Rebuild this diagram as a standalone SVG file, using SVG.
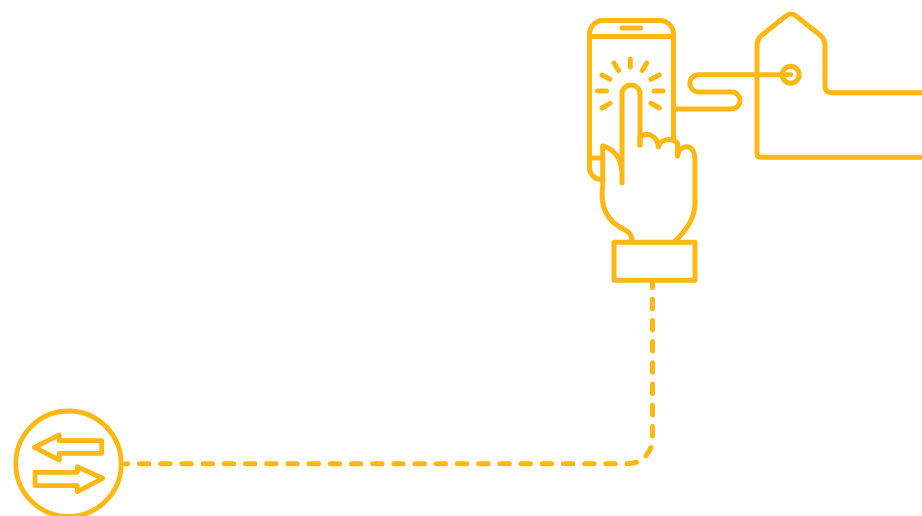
<svg xmlns="http://www.w3.org/2000/svg" width="922" height="516" viewBox="0 0 922 516">
<style>
.s{fill:none;stroke:#fdb813;stroke-width:5;stroke-linecap:round;stroke-linejoin:round}
.t{stroke-width:4.800}
.d{stroke-dasharray:9.500 11.700;stroke-dashoffset:5}
</style>
<rect width="922" height="516" fill="#fff"/>
<g id="connectors">
<path class="s d" d="M652.500 283V438A25 25 0 0 1 627.500 463.800H125.500"/>
<path class="s" d="M790.700 74.700H697.500A8.700 8.700 0 0 0 697.500 92H731.500A8.500 8.500 0 0 1 731.500 109H675"/>
</g>
<g id="tag">
<path class="s" d="M922 157.300H761Q757 157.300 757 153.300V46Q757 39 762 35L786 16Q791 12 796 16L820 35Q825 39 825 46V86Q825 92.700 832 92.700H922"/>
<circle class="s" cx="790.700" cy="74.700" r="8.500"/>
</g>
<g id="phone">
<path class="s" d="M603 179.500H601A11.500 11.500 0 0 1 589.500 168V34A13.500 13.500 0 0 1 603 20.500H660A13.500 13.500 0 0 1 673.500 34V138"/>
<path class="s" d="M589.500 36.500H673.500M622 28H640.500M589.500 158H603"/>
<path class="s" d="M630.300 59V67M614 63L618.500 70.500M646.700 63L642.300 70.500M602 75L610 79.300M659.300 75L651 79.300M597.500 91H606.500M654 91H663M602 108L610 103.300M659.300 108L651 103.300"/>
</g>
<g id="hand">
<path class="s" d="M622 183V94A9 9 0 0 1 640 94V145"/>
<path class="s" d="M621.700 170C621 157 612 148 602.700 146V186C600 205 606 221 625 230Q632 233 632 241"/>
<path class="s" d="M640 145V137C648 131 657 136 658.500 147C660 139 672 137 677.500 143V156C677.500 146 695 140 695 160V203C695 218 687 230 675 241"/>
<rect class="s" x="614" y="242.300" width="81" height="38"/>
</g>
<g id="exchange">
<circle class="s t" cx="68.500" cy="463.700" r="52.700"/>
<path class="s t" d="M34.300 447.300L59.300 435V440.700H101.700V453.300H59.300V460Z"/>
<path class="s t" d="M35 472.300H77.300V466.700L102.700 478.300L77.300 491.700V485.700H35Z"/>
</g>
</svg>
